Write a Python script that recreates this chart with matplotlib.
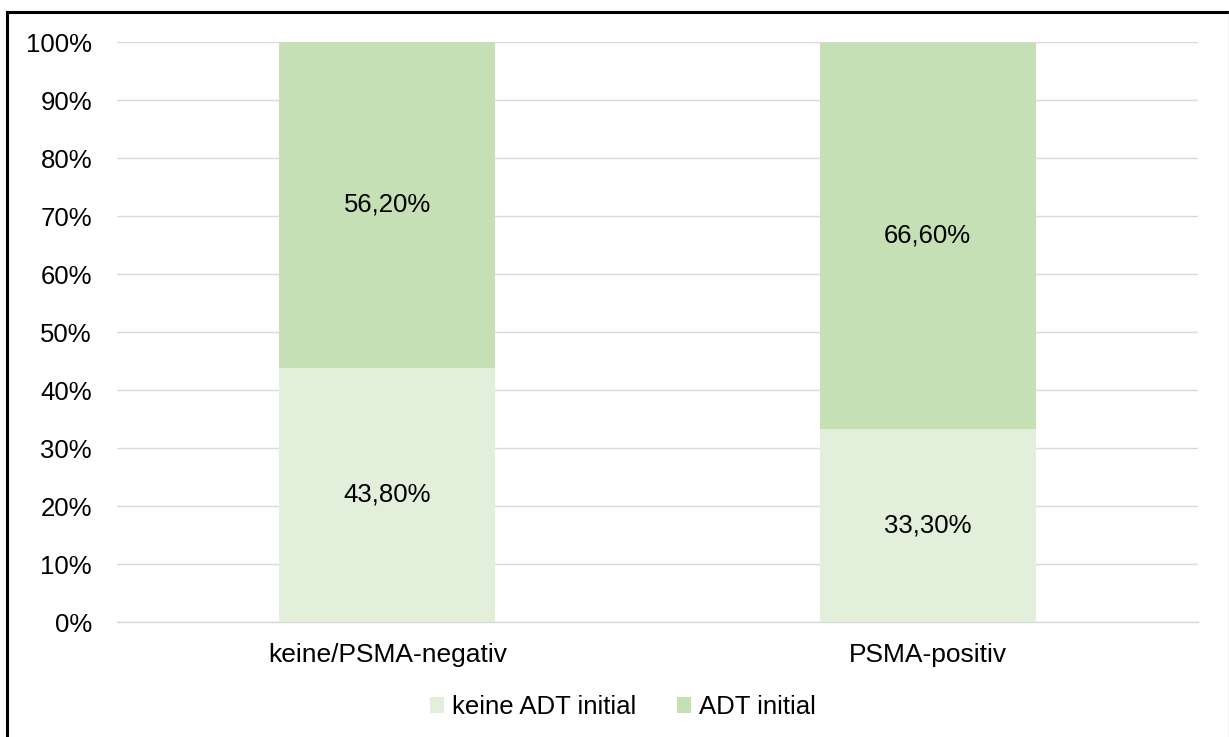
import matplotlib.pyplot as plt
from matplotlib.lines import Line2D
import numpy as np

plt.rcParams['font.family'] = ['Liberation Sans', 'DejaVu Sans']

# data
categories = ['keine/PSMA-negativ', 'PSMA-positiv']
keine_adt = [43.8, 33.3]
adt = [56.2, 66.6]
series_names = ['keine ADT initial', 'ADT initial']
colors = ['#e2efda', '#c5e0b4']

fig = plt.figure(figsize=(12.29, 7.37), dpi=100)
ax = fig.add_axes([117 / 1229, 1 - 622 / 737, (1198 - 117) / 1229, 580 / 737])

x = np.arange(len(categories))
b1 = ax.bar(x, keine_adt, width=0.4, color=colors[0], label=series_names[0], zorder=2)
b2 = ax.bar(x, adt, width=0.4, bottom=keine_adt, color=colors[1], label=series_names[1], zorder=2)

for bars, vals, bottoms in [(b1, keine_adt, [0, 0]), (b2, adt, keine_adt)]:
    for rect, v, b in zip(bars, vals, bottoms):
        ax.text(rect.get_x() + rect.get_width() / 2, b + v / 2,
                f'{v:.2f}%'.replace('.', ','), ha='center', va='center',
                fontsize=18.5, color='black', zorder=3)

ax.set_xlim(-0.5, 1.5)
ax.set_ylim(0, 100)
ax.set_yticks(np.arange(0, 101, 10))
ax.set_yticklabels([f'{t}%' for t in range(0, 101, 10)])
ax.set_xticks(x)
ax.set_xticklabels(categories)
ax.tick_params(axis='both', length=0, labelsize=18.5, colors='black')
ax.tick_params(axis='x', labelsize=19, pad=15)
ax.tick_params(axis='y', pad=18)
ax.grid(axis='y', color='#d9d9d9', linewidth=1, zorder=0)
for s in ['top', 'right', 'left']:
    ax.spines[s].set_visible(False)
ax.spines['bottom'].set_color('#d9d9d9')
ax.spines['bottom'].set_linewidth(1)

fig.legend(loc='center', bbox_to_anchor=(623 / 1229, 1 - 707 / 737), ncol=2,
           frameon=False, fontsize=18.5, handlelength=0.55, handleheight=0.55,
           handletextpad=0.3, columnspacing=1.6)

# outer frame (top and left black, right thin gray)
fig.add_artist(Line2D([7 / 1229, 1], [1 - 11.5 / 737, 1 - 11.5 / 737], color='black', lw=2.2, transform=fig.transFigure))
fig.add_artist(Line2D([7 / 1229, 7 / 1229], [0, 1 - 11.5 / 737], color='black', lw=2.2, transform=fig.transFigure))
fig.add_artist(Line2D([1228.5 / 1229, 1228.5 / 1229], [0, 1 - 11.5 / 737], color='#c8c8c8', lw=1, transform=fig.transFigure))

fig.savefig('out.png', dpi=100)
